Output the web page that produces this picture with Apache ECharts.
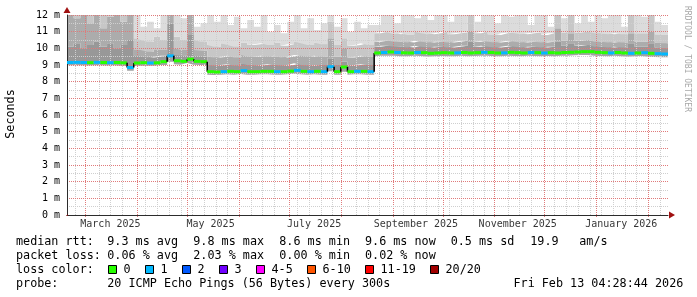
<!DOCTYPE html>
<html><head><meta charset="utf-8">
<script src="https://cdn.jsdelivr.net/npm/echarts@6/dist/echarts.min.js"></script>
<style>html,body{margin:0;padding:0;background:#fff}#c{width:697px;height:297px}</style>
</head><body><div id="c"></div>
<script>
// ---------------- data ----------------
const startDate = '2025-02-18';
const bucketDays = 4;
const median = [
 9.15,9.16,9.15,9.14,9.16,9.15,9.14,9.15,9.13,8.85,
 9.12,9.14,9.12,9.13,9.2,9.55,9.25,9.22,9.35,9.22,
 9.2,8.6,8.58,8.6,8.62,8.6,8.66,8.6,8.6,8.62,
 8.62,8.6,8.6,8.63,8.68,8.62,8.6,8.62,8.6,8.9,
 8.6,8.88,8.6,8.62,8.62,8.6,9.72,9.75,9.78,9.75,
 9.73,9.72,9.75,9.74,9.7,9.72,9.74,9.72,9.73,9.75,
 9.72,9.74,9.76,9.75,9.72,9.73,9.76,9.74,9.72,9.75,
 9.74,9.72,9.74,9.72,9.75,9.76,9.78,9.8,9.8,9.76,
 9.74,9.72,9.75,9.72,9.7,9.72,9.74,9.7,9.68,9.66];
const loss = [
 1,1,1,0,1,0,1,0,0,1,
 0,0,1,0,0,1,0,0,0,0,
 0,0,0,1,0,0,1,0,0,0,
 0,1,0,0,1,0,1,0,1,1,
 0,0,0,1,0,1,0,1,0,1,
 0,0,1,0,0,0,0,0,1,0,
 0,0,1,0,0,1,0,0,0,1,
 0,1,0,0,0,0,0,0,0,0,
 0,1,0,0,1,0,1,0,1,1];
const smokeLow = [
 8.98,8.99,8.98,8.97,8.98,8.98,8.97,8.98,8.96,8.65,
 8.95,8.96,8.95,8.96,9.0,9.2,9.05,9.02,9.12,9.02,
 9.0,8.42,8.4,8.42,8.44,8.42,8.46,8.42,8.42,8.44,
 8.44,8.42,8.42,8.45,8.48,8.44,8.42,8.44,8.42,8.62,
 8.42,8.6,8.42,8.44,8.44,8.42,9.52,9.55,9.56,9.55,
 9.53,9.52,9.55,9.54,9.5,9.52,9.54,9.52,9.53,9.55,
 9.52,9.54,9.56,9.55,9.52,9.53,9.56,9.54,9.52,9.55,
 9.54,9.52,9.54,9.52,9.55,9.56,9.58,9.6,9.6,9.56,
 9.54,9.52,9.55,9.52,9.5,9.52,9.54,9.5,9.48,9.46];
const smokeU1 = [
 10.1,10.3,10.0,10.2,10.4,10.1,10.3,10.0,10.2,10.5,
 9.55,9.5,9.45,9.5,9.55,11.5,9.6,9.55,10.8,9.55,
 9.5,9.0,8.95,9.0,9.05,8.95,9.1,9.0,8.95,9.0,
 9.05,9.0,8.95,9.0,9.1,9.0,8.95,9.0,9.0,9.4,
 9.0,9.2,8.95,9.0,9.05,9.0,10.1,10.15,10.15,10.1,
 10.1,10.05,10.15,10.1,10.05,10.1,10.1,10.05,10.1,10.15,
 10.4,10.1,10.15,10.1,10.05,10.1,10.15,10.1,10.05,10.1,
 10.1,10.05,10.1,10.4,10.15,10.3,10.15,10.2,10.2,10.1,
 10.1,10.05,10.1,10.05,10.3,10.1,10.1,10.3,10.05,10.0];
const smokeU2 = [
 12.4,11.8,12.3,11.5,12.5,11.2,11.9,12.4,11.6,12.5,
 9.95,9.9,9.8,9.95,9.9,12.6,10.0,9.9,12.4,9.9,
 9.85,9.5,9.45,9.5,9.55,9.45,9.6,9.5,9.5,9.55,
 9.5,9.55,9.45,9.5,9.6,9.55,9.5,9.55,9.5,10.6,
 9.5,10.0,9.45,9.5,9.55,9.5,10.4,10.45,10.45,10.4,
 10.4,10.35,10.45,10.4,10.35,10.4,10.4,10.35,10.4,10.45,
 11.0,10.4,10.45,10.4,10.35,10.4,10.45,10.4,10.35,10.4,
 10.4,10.35,10.4,11.2,10.45,10.9,10.45,10.5,10.5,10.4,
 10.4,10.35,10.4,10.35,10.9,10.4,10.4,11.0,10.35,10.3];
const smokeU3 = [
 13,13,13,13,13,13,13,13,13,13,
 10.6,10.5,10.4,10.7,10.5,13,10.7,10.5,13,10.5,
 10.4,10.2,10.1,10.3,10.2,10.1,10.35,10.2,10.25,10.3,
 10.2,10.35,10.15,10.25,10.4,10.3,10.2,10.35,10.25,11.6,
 10.2,10.6,10.15,10.2,10.3,10.2,10.9,11.0,10.95,10.85,
 10.9,10.8,11.0,10.9,10.85,10.9,11.0,10.85,10.9,10.95,
 12.8,10.9,11.0,10.85,10.8,10.9,10.95,10.9,10.85,10.9,
 10.95,10.8,10.9,12.8,10.95,12.6,10.95,11.0,11.0,10.9,
 10.9,10.85,10.9,10.85,12.5,10.9,10.9,12.7,10.85,10.8];
const smokeMax = [
 13,13,13,13,13,13,13,13,13,13,
 12.2,11.3,11.6,11.2,12.3,13,12.5,11.8,13,11.3,
 11.5,12.2,11.6,12.4,11.4,11.9,11.2,11.7,11.3,12.1,
 11.0,11.4,10.9,11.6,12.3,11.2,11.8,11.1,11.5,12.0,
 11.3,11.8,11.0,11.6,11.2,11.4,11.4,12.3,12.6,11.5,
 12.2,12.5,11.8,12.4,11.7,12.6,12.1,11.6,12.4,12.0,
 13,11.6,12.3,12.5,11.5,12.2,11.9,12.6,12.1,11.4,
 12.3,12.5,11.3,13,11.8,13,11.5,12.4,11.6,12.2,
 11.8,12.5,12.3,11.3,13,12.4,11.9,13,11.6,11.4];
const monthGrid = ['2025-03-01','2025-04-01','2025-05-01','2025-06-01','2025-07-01','2025-08-01',
 '2025-09-01','2025-10-01','2025-11-01','2025-12-01','2026-01-01','2026-02-01'];
const monthLabels = ['March 2025','May 2025','July 2025','September 2025','November 2025','January 2026'];
const monthLabelDates = ['2025-03-16','2025-05-15','2025-07-16','2025-09-15','2025-11-15','2026-01-16'];
const lossLabels = ['0','1','2','3','4-5','6-10','11-19','20/20'];
const lossColors = ['#26ff00','#00b8ff','#0059ff','#7000ff','#ff00ff','#ff5500','#ff0000','#a10000'];
const rttStats = ['9.3 ms avg','9.8 ms max','8.6 ms min','9.6 ms now','0.5 ms sd','19.9','am/s'];
const lossStats = ['0.06 % avg','2.03 % max','0.00 % min','0.02 % now'];
const probeText = '20 ICMP Echo Pings (56 Bytes) every 300s';
const dateText = 'Fri Feb 13 04:28:44 2026';

// ---------------- build ----------------
const DAY = 86400000;
const T0 = Date.parse(startDate + 'T00:00:00Z');
const N = median.length;
const times = [];
for (let i = 0; i <= N; i++) times.push(T0 + i * bucketDays * DAY);
const TEND = times[N];
function stepData(arr) { const d = arr.map((v, i) => [times[i], v]); d.push([times[N], arr[N - 1]]); return d; }

const bands = [
  [smokeLow, median, '#a3a3a3'],
  [median, smokeU1, '#989898'],
  [smokeU1, smokeU2, '#acacac'],
  [smokeU2, smokeU3, '#c7c7c7'],
  [smokeU3, smokeMax, '#dcdcdc']
];
const series = [];
series.push({type: 'line', stack: 'smoke', step: 'end', symbol: 'none', silent: true, z: 2,
  lineStyle: {width: 0, opacity: 0}, data: stepData(smokeLow)});
bands.forEach(([lo, hi, col]) => {
  series.push({type: 'line', stack: 'smoke', step: 'end', symbol: 'none', silent: true, z: 2,
    lineStyle: {width: 0, opacity: 0}, areaStyle: {color: col, opacity: 1},
    data: stepData(hi.map((v, i) => Math.max(0, v - lo[i])))});
});

// vertical grid: weekly minor lines, monthly major lines
const monthTimes = monthGrid.map(d => Date.parse(d + 'T00:00:00Z'));
const weekTimes = [];
for (let t = Date.parse('2025-02-23T00:00:00Z'); t < TEND; t += 7 * DAY) {
  if (monthTimes.every(m => Math.abs(m - t) > 2 * DAY)) weekTimes.push(t);
}
function vLineSeries(list, color, ext, z) {
  return {type: 'custom', z: z, silent: true, data: list.map(t => [t, 0]), encode: {x: 0, y: 1},
    renderItem(params, api) {
      const t = api.value(0);
      const p0 = api.coord([t, 0]), p1 = api.coord([t, 12]);
      const x = Math.round(p0[0]) + 0.5;
      return {type: 'line', shape: {x1: x, y1: p0[1] + ext, x2: x, y2: p1[1]},
        style: {stroke: color, lineWidth: 1, lineDash: [1, 1]}};
    }};
}
series.push(vLineSeries(weekTimes, '#cfcfcf', 0, 3));
series.push(vLineSeries(monthTimes, '#e07a7a', 2, 4));

// median line coloured by loss
const medData = median.map((v, i) => [times[i], times[i + 1], v, i > 0 ? median[i - 1] : v, loss[i]]);
series.push({type: 'custom', z: 6, silent: true, data: medData, encode: {x: [0, 1], y: [2, 3]},
  renderItem(params, api) {
    const t0 = api.value(0), t1 = api.value(1), v = api.value(2), pv = api.value(3), l = api.value(4);
    const a = api.coord([t0, v]), b = api.coord([t1, v]), c = api.coord([t0, pv]);
    const ch = [];
    if (Math.abs(v - pv) > 0.08) ch.push({type: 'line', shape: {x1: a[0], y1: c[1], x2: a[0], y2: a[1]}, style: {stroke: '#000', lineWidth: 1.5}});
    ch.push({type: 'rect', shape: {x: a[0], y: a[1] - 1.5, width: b[0] - a[0], height: 3}, style: {fill: lossColors[l]}});
    return {type: 'group', children: ch};
  }});

// x labels
series.push({type: 'scatter', silent: true, symbolSize: 1, itemStyle: {color: 'rgba(0,0,0,0)'}, z: 5, clip: false,
  data: monthLabels.map((s, i) => ({name: s, value: [Date.parse(monthLabelDates[i] + 'T00:00:00Z'), 0]})),
  label: {show: true, position: 'bottom', distance: 4, formatter: '{b}', color: '#000',
    fontFamily: 'DejaVu Sans Mono', fontSize: 10}});

// ---------------- text / legend ----------------
const FONT = '11.75px "DejaVu Sans Mono"';
const g = [];
function txt(s, x, y, extra) { g.push(Object.assign({type: 'text', x: x, y: y, silent: true,
  style: {text: s, font: FONT, fill: '#000', verticalAlign: 'middle'}}, extra || {})); }
const rowY = [242, 256, 270, 284];
const colX = [107.3, 193.3, 279.3, 365, 450.7, 530.3, 579.3];
txt('median rtt:', 16, rowY[0]);
rttStats.forEach((s, i) => txt(s, colX[i], rowY[0]));
txt('packet loss:', 16, rowY[1]);
lossStats.forEach((s, i) => txt(s, colX[i], rowY[1]));
txt('loss color:', 16, rowY[2]);
const boxX = [108.5, 145.5, 182.5, 219.5, 256.5, 307.5, 365.5, 430.5];
lossLabels.forEach((s, i) => {
  g.push({type: 'rect', silent: true, shape: {x: boxX[i], y: 265.5, width: 8, height: 8},
    style: {fill: lossColors[i], stroke: '#000', lineWidth: 1}});
  txt(s, boxX[i] + 15, rowY[2]);
});
txt('probe:', 16, rowY[3]);
txt(probeText, 107.3, rowY[3]);
txt(dateText, 513.5, rowY[3]);
g.push({type: 'text', silent: true, x: 11, y: 114, rotation: Math.PI / 2,
  style: {text: 'Seconds', font: FONT, fill: '#000', align: 'center', verticalAlign: 'middle'}});
g.push({type: 'text', silent: true, x: 687, y: 59, rotation: -Math.PI / 2,
  style: {text: 'RRDTOOL / TOBI OETIKER', font: '8px "DejaVu Sans Mono"', fill: '#a8a8a8', align: 'center', verticalAlign: 'middle'}});

const chart = echarts.init(document.getElementById('c'), null, {renderer: 'canvas'});
chart.setOption({
  animation: false,
  backgroundColor: '#fff',
  grid: {left: 67, right: 29, top: 15, bottom: 82, containLabel: false},
  xAxis: [
    {type: 'time', min: T0, max: TEND, z: 7,
      axisLine: {show: true, lineStyle: {color: '#2c2c2c', width: 1}},
      axisTick: {show: false}, axisLabel: {show: false}, splitLine: {show: false}},
    {type: 'value', min: 0, max: 1, position: 'bottom', z: 8,
      axisLine: {show: true, onZero: false, symbol: ['none', 'triangle'], symbolSize: [7, 6], symbolOffset: [0, 4],
        lineStyle: {color: '#a01010', type: [0, 10000]}},
      axisTick: {show: false}, axisLabel: {show: false}, splitLine: {show: false}}
  ],
  yAxis: [
    {type: 'value', min: 0, max: 12, interval: 1, z: 5,
      axisLine: {show: true, lineStyle: {color: '#2c2c2c', width: 1}},
      axisTick: {show: false},
      axisLabel: {formatter: v => v + ' m', color: '#000', fontFamily: 'DejaVu Sans Mono', fontSize: 10, margin: 7},
      splitLine: {show: true, lineStyle: {color: '#e07a7a', type: [1, 1], width: 1}},
      minorTick: {show: false, splitNumber: 2},
      minorSplitLine: {show: true, lineStyle: {color: '#cfcfcf', type: [1, 1], width: 1}}},
    {type: 'value', min: 0, max: 1, position: 'left', z: 8,
      axisLine: {show: true, onZero: false, symbol: ['none', 'triangle'], symbolSize: [7, 6], symbolOffset: [0, 5],
        lineStyle: {color: '#a01010', type: [0, 10000]}},
      axisTick: {show: false}, axisLabel: {show: false}, splitLine: {show: false}}
  ],
  series: series,
  graphic: g
});
</script></body></html>
